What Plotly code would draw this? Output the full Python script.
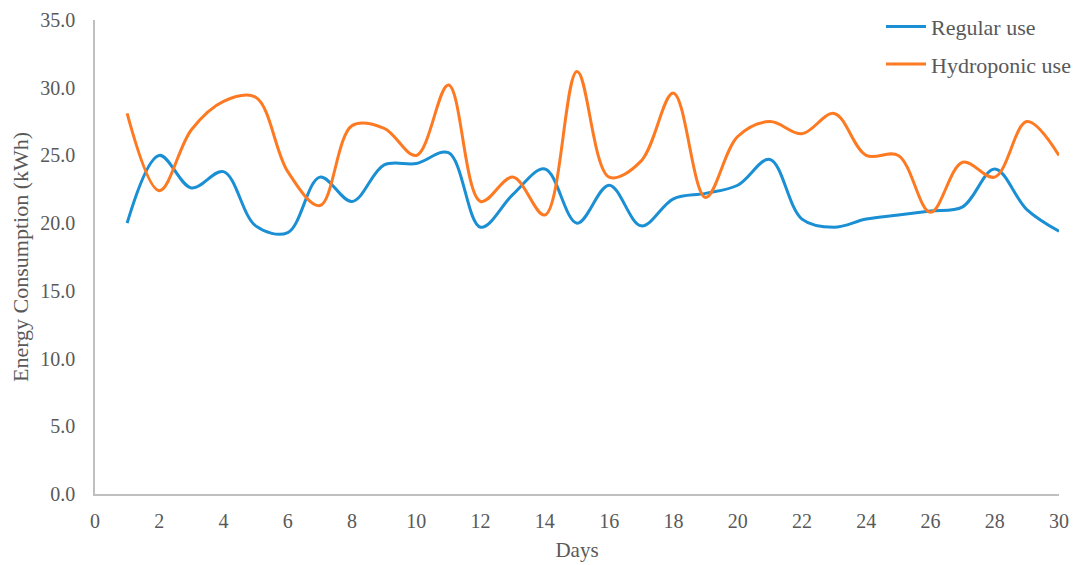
import plotly.graph_objects as go

days = list(range(1, 31))
regular_use = [20.0, 25.0, 22.6, 23.8, 19.8, 19.3, 23.4, 21.6, 24.3, 24.4,
               25.2, 19.7, 22.1, 24.0, 20.0, 22.8, 19.8, 21.8, 22.2, 22.8,
               24.7, 20.3, 19.7, 20.3, 20.6, 20.9, 21.2, 24.0, 21.0, 19.4]
hydroponic_use = [28.1, 22.4, 26.9, 29.0, 29.3, 23.8, 21.3, 27.2, 27.0, 25.0,
                  30.2, 21.6, 23.4, 20.6, 31.2, 23.4, 24.6, 29.6, 21.9, 26.4,
                  27.5, 26.6, 28.1, 25.0, 25.0, 20.8, 24.5, 23.4, 27.5, 25.0]

x_ticks = list(range(0, 31, 2))
y_ticks = [0, 5, 10, 15, 20, 25, 30, 35]

font_family = "Liberation Serif, Times New Roman, serif"
text_color = "#595959"
axis_color = "#bfbfbf"

fig = go.Figure()
fig.add_trace(go.Scatter(
    x=days, y=regular_use, name="Regular use", mode="lines", legendgroup="a",
    line=dict(color="#1a8fd3", width=3, shape="spline", smoothing=1.0),
))
fig.add_trace(go.Scatter(
    x=days, y=hydroponic_use, name="Hydroponic use", mode="lines", legendgroup="b",
    line=dict(color="#fd7a22", width=3, shape="spline", smoothing=1.0),
))

fig.update_layout(
    width=1076, height=565,
    margin=dict(l=95, r=17, t=20, b=71, autoexpand=False),
    paper_bgcolor="white", plot_bgcolor="white",
    font=dict(family=font_family, color=text_color, size=20),
    showlegend=True,
    legend=dict(
        xref="container", yref="container",
        x=1.0, y=0.99, xanchor="right", yanchor="top",
        bgcolor="rgba(0,0,0,0)", font=dict(size=22, color=text_color),
        itemwidth=40, tracegroupgap=6,
    ),
    xaxis=dict(
        range=[0, 30], tickvals=x_ticks, ticktext=[str(v) for v in x_ticks],
        showgrid=False, zeroline=False, showline=True, linecolor=axis_color,
        linewidth=1.5, ticks="", tickfont=dict(size=20), ticklabelstandoff=8,
        title=dict(text="Days", font=dict(size=21), standoff=12),
        automargin=False,
    ),
    yaxis=dict(
        range=[0, 35], tickvals=y_ticks, ticktext=[f"{v:.1f}" for v in y_ticks],
        showgrid=False, zeroline=False, showline=True, linecolor=axis_color,
        linewidth=1.5, ticks="", tickfont=dict(size=20), ticklabelstandoff=14,
        title=dict(text="Energy Consumption (kWh)", font=dict(size=22), standoff=6),
        automargin=False,
    ),
)

fig.write_html("out.html")
